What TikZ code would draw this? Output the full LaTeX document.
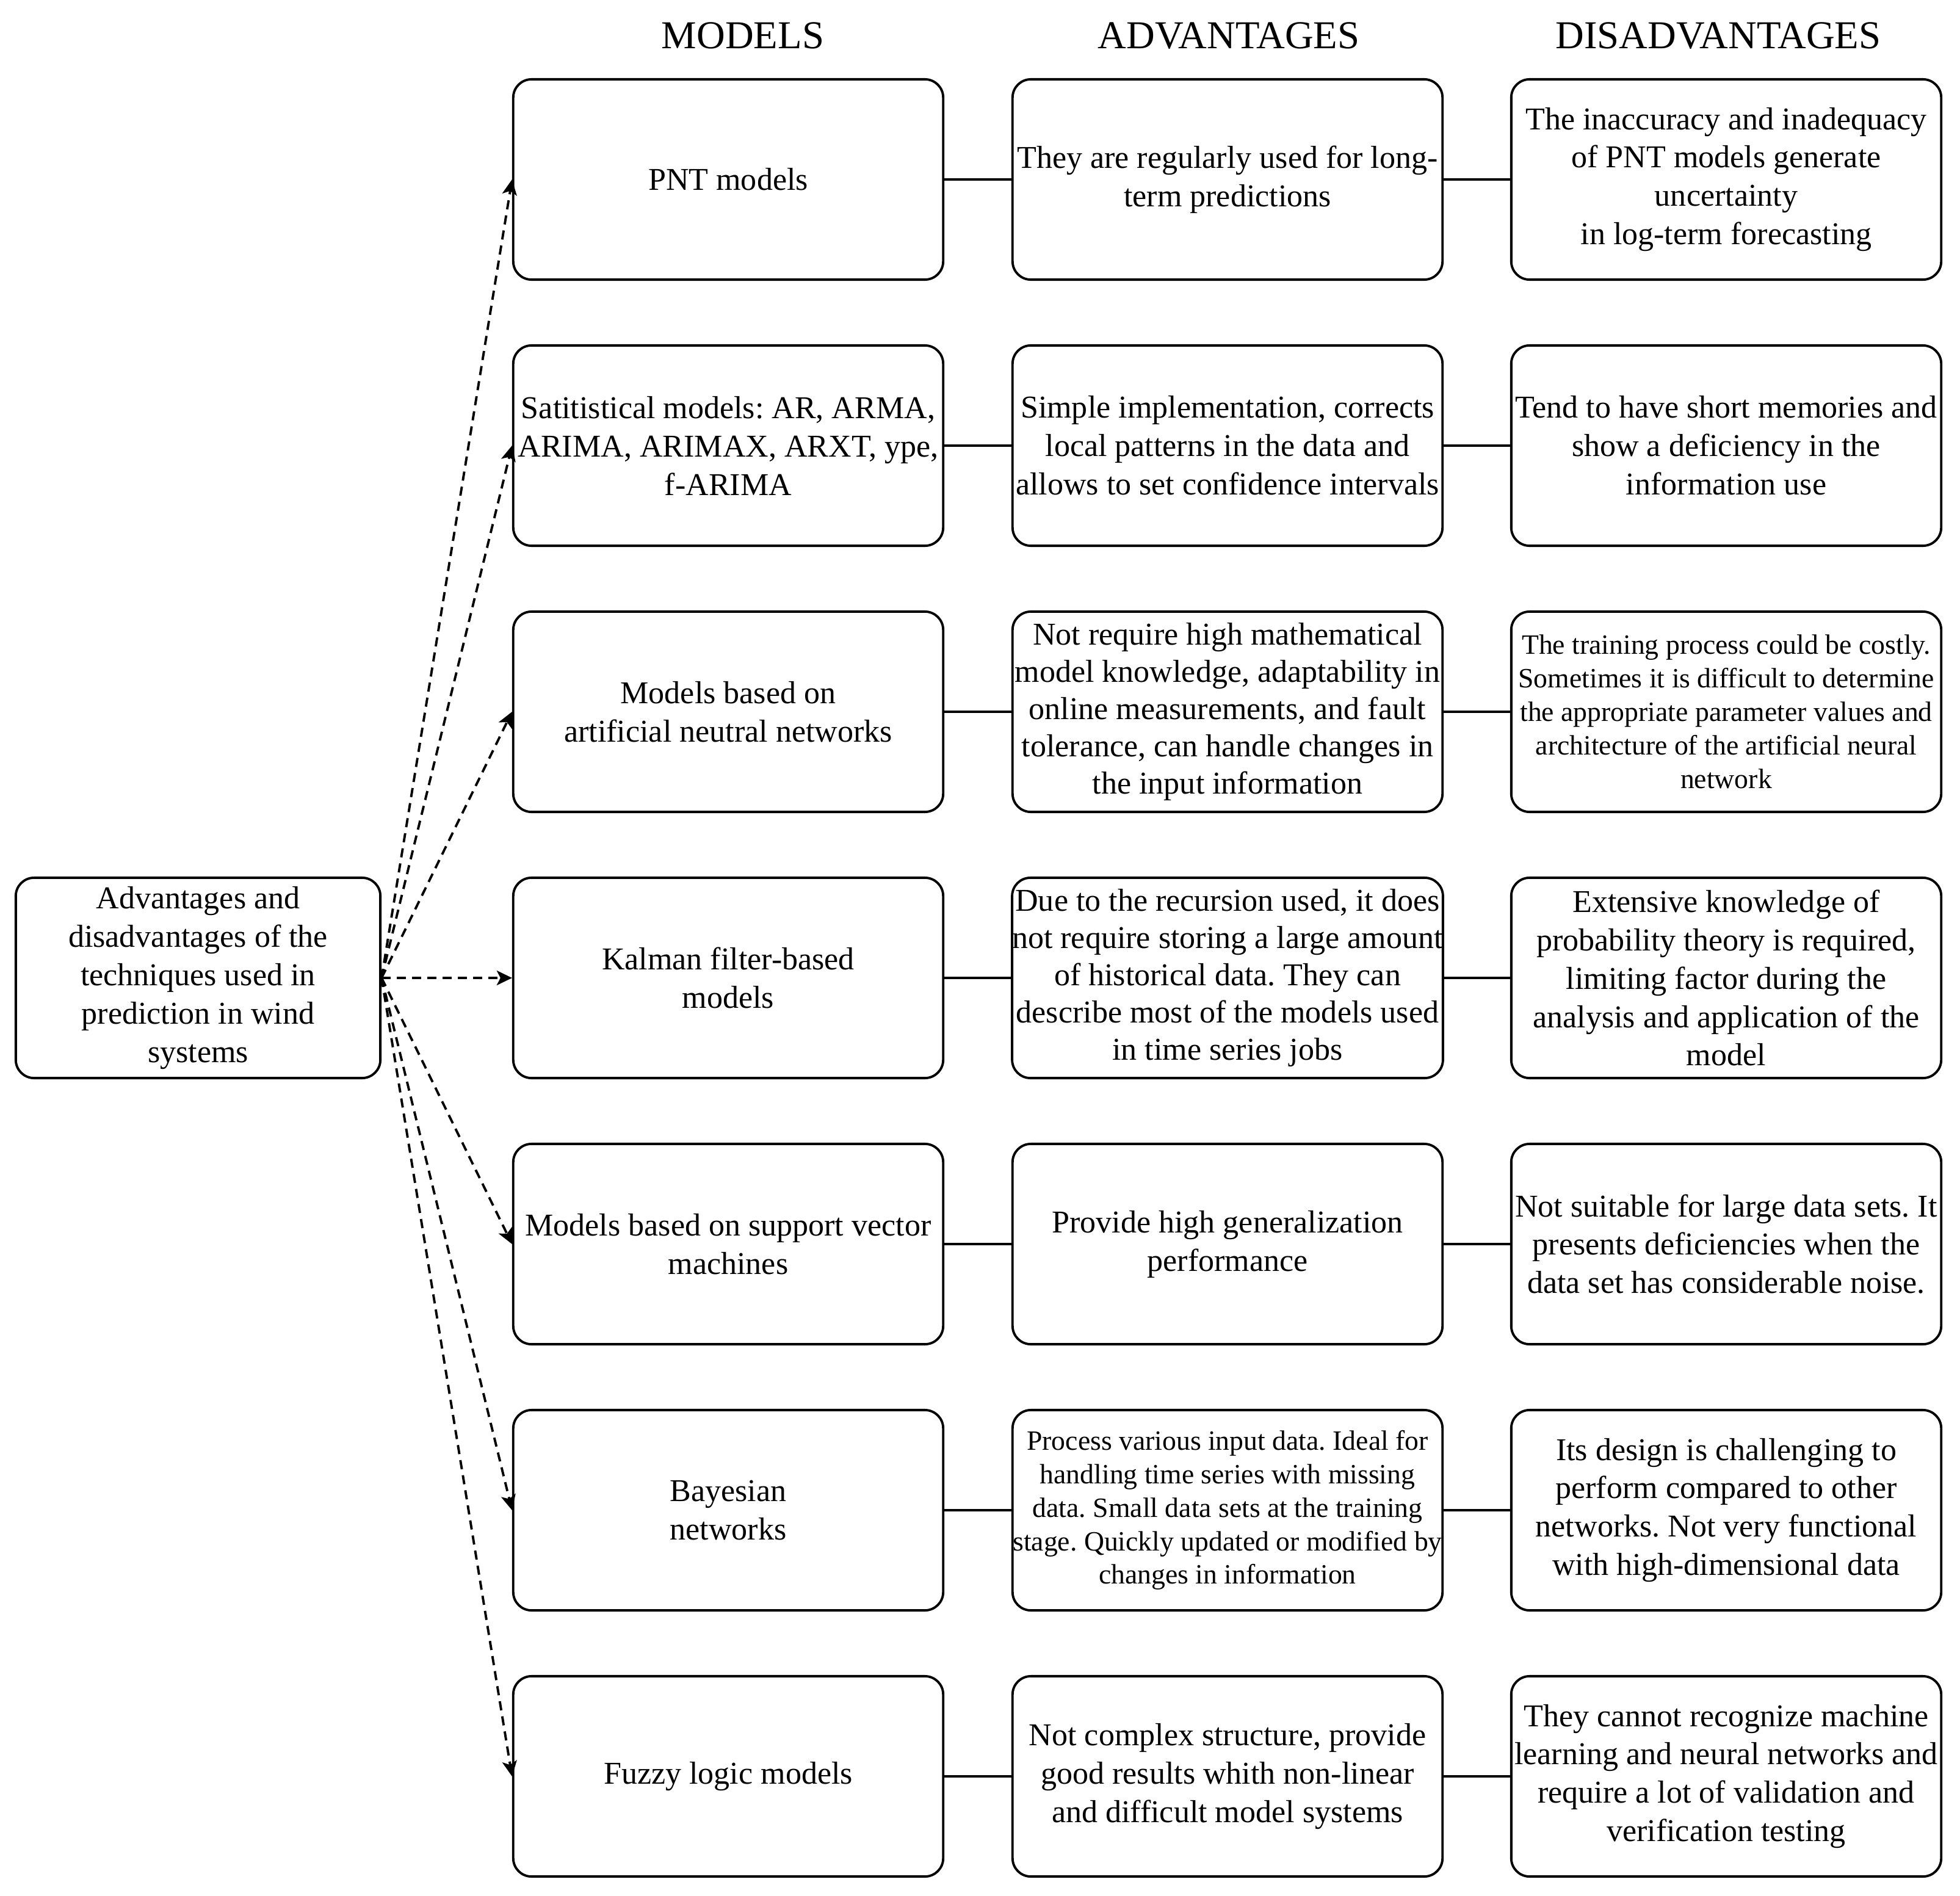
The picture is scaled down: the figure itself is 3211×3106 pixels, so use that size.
\documentclass[tikz,border=0pt]{standalone}
\usepackage{fontspec}
\setmainfont{Liberation Serif}
\usetikzlibrary{arrows.meta}
\frenchspacing
\begin{document}
\begin{tikzpicture}[x=0.01cm,y=-0.01cm,
  box/.style={draw, line width=1.1pt, rounded corners=0.3cm, minimum width=7.04cm, minimum height=3.28cm, inner sep=0pt, align=center, font=\fontsize{14.8}{17.9}\selectfont\frenchspacing},
  smalltext/.style={font=\fontsize{13}{15.6}\selectfont\frenchspacing},
  head/.style={anchor=base, inner sep=0pt, font=\fontsize{18.4}{22}\selectfont},
  link/.style={line width=1.1pt},
  dasharrow/.style={line width=1.1pt, dash pattern=on 0.15cm off 0.1cm, -{Stealth[length=0.25cm, width=0.24cm, inset=0.06cm]}}
]
\useasboundingbox (0,0) rectangle (3211,3106);

\node[head] (hm) at (1217,80) {MODELS};
\node[head] (ha) at (2013,80) {ADVANTAGES};
\node[head] (hd) at (2815,80) {DISADVANTAGES};

\node[box, minimum width=5.97cm] (L) at (324.5,1602) {Advantages and\\disadvantages of the\\techniques used in\\prediction in wind\\systems};

% row 1
\node[box] (m1) at (1193,294) {PNT models};
\node[box] (a1) at (2011,294) {They are regularly used for long-\\term predictions};
\node[box] (d1) at (2828,294) {The inaccuracy and inadequacy\\of PNT models generate\\uncertainty\\in log-term forecasting};
% row 2
\node[box] (m2) at (1193,730) {Satitistical models: AR, ARMA,\\ARIMA, ARIMAX, ARXT, ype,\\f-ARIMA};
\node[box] (a2) at (2011,730) {Simple implementation, corrects\\local patterns in the data and\\allows to set confidence intervals};
\node[box] (d2) at (2828,730) {Tend to have short memories and\\show a deficiency in the\\information use};
% row 3
\node[box, font=\fontsize{14.8}{17.4}\selectfont\frenchspacing] (a3) at (2011,1166) {Not require high mathematical\\model knowledge, adaptability in\\online measurements, and fault\\tolerance, can handle changes in\\the input information};
\node[box] (m3) at (1193,1166) {Models based on\\artificial neutral networks};
\node[box, smalltext] (d3) at (2828,1166) {The training process could be costly.\\Sometimes it is difficult to determine\\the appropriate parameter values and\\architecture of the artificial neural\\network};
% row 4
\node[box] (m4) at (1193,1602) {Kalman filter-based\\models};
\node[box, font=\fontsize{14.8}{17.4}\selectfont\frenchspacing] (a4) at (2011,1602) {Due to the recursion used, it does\\not require storing a large amount\\of historical data. They can\\describe most of the models used\\in time series jobs};
\node[box] (d4) at (2828,1602) {Extensive knowledge of\\probability theory is required,\\limiting factor during the\\analysis and application of the\\model};
% row 5
\node[box] (m5) at (1193,2038) {Models based on support vector\\machines};
\node[box] (a5) at (2011,2038) {Provide high generalization\\performance};
\node[box] (d5) at (2828,2038) {Not suitable for large data sets. It\\presents deficiencies when the\\data set has considerable noise.};
% row 6
\node[box] (m6) at (1193,2474) {Bayesian\\networks};
\node[box, smalltext] (a6) at (2011,2474) {Process various input data. Ideal for\\handling time series with missing\\data. Small data sets at the training\\stage. Quickly updated or modified by\\changes in information};
\node[box] (d6) at (2828,2474) {Its design is challenging to\\perform compared to other\\networks. Not very functional\\with high-dimensional data};
% row 7
\node[box] (m7) at (1193,2910) {Fuzzy logic models};
\node[box] (a7) at (2011,2910) {Not complex structure, provide\\good results whith non-linear\\and difficult model systems};
\node[box] (d7) at (2828,2910) {They cannot recognize machine\\learning and neural networks and\\require a lot of validation and\\verification testing};

\foreach \i in {1,...,7}{
  \draw[link] (m\i.east) -- (a\i.west);
  \draw[link] (a\i.east) -- (d\i.west);
  \draw[dasharrow] (L.east) -- (m\i.west);
}
\end{tikzpicture}
\end{document}
